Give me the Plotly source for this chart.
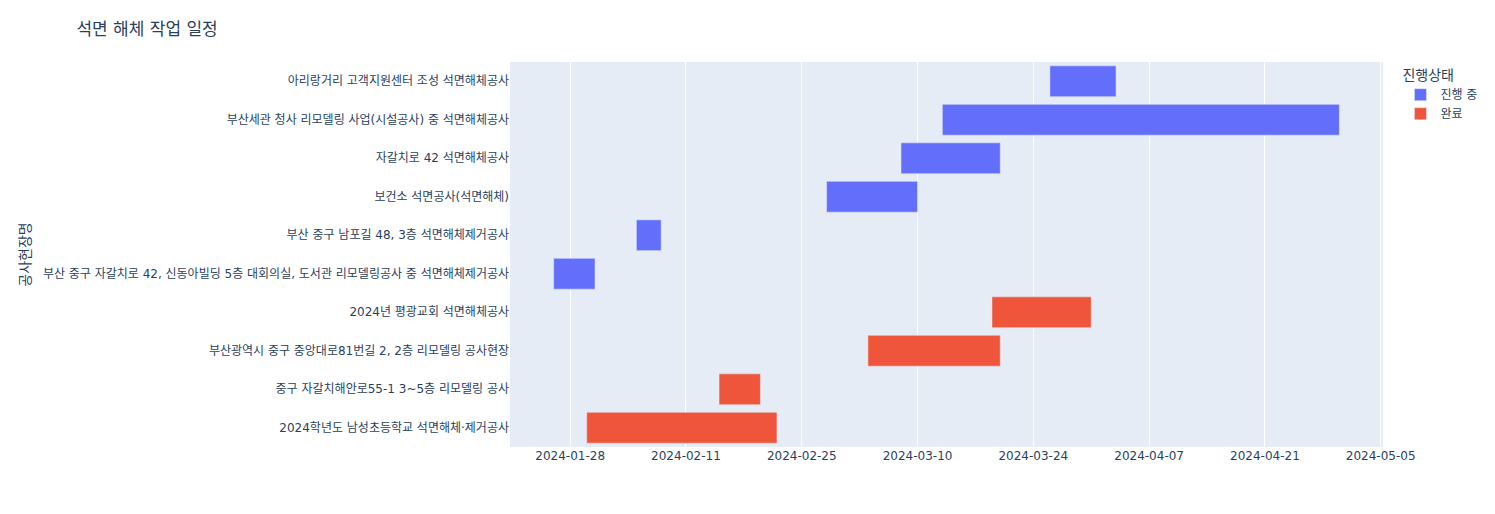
import pandas as pd
import plotly.express as px

# Data (order as drawn top to bottom, y axis reversed)
sites = [
    "아리랑거리 고객지원센터 조성 석면해체공사",
    "부산세관 청사 리모델링 사업(시설공사) 중 석면해체공사",
    "자갈치로 42 석면해체공사",
    "보건소 석면공사(석면해체)",
    "부산 중구 남포길 48, 3층 석면해체제거공사",
    "부산 중구 자갈치로 42, 신동아빌딩 5층 대회의실, 도서관 리모델링공사 중 석면해체제거공사",
    "2024년 평광교회 석면해체공사",
    "부산광역시 중구 중앙대로81번길 2, 2층 리모델링 공사현장",
    "중구 자갈치해안로55-1 3~5층 리모델링 공사",
    "2024학년도 남성초등학교 석면해체·제거공사",
]
start_dates = [
    "2024-03-26", "2024-03-13", "2024-03-08", "2024-02-28", "2024-02-05",
    "2024-01-26", "2024-03-19", "2024-03-04", "2024-02-15", "2024-01-30",
]
end_dates = [
    "2024-04-03", "2024-04-30", "2024-03-20", "2024-03-10", "2024-02-08",
    "2024-01-31", "2024-03-31", "2024-03-20", "2024-02-20", "2024-02-22",
]
status = [
    "진행 중", "진행 중", "진행 중", "진행 중", "진행 중",
    "진행 중", "완료", "완료", "완료", "완료",
]

df = pd.DataFrame({
    "공사현장명": sites,
    "시작일": pd.to_datetime(start_dates),
    "종료일": pd.to_datetime(end_dates),
    "진행상태": status,
})

fig = px.timeline(
    df,
    x_start="시작일",
    x_end="종료일",
    y="공사현장명",
    color="진행상태",
    title="석면 해체 작업 일정",
)
fig.update_yaxes(autorange="reversed", title_standoff=8)
fig.update_xaxes(tickformat="%Y-%m-%d", dtick=14 * 86400000, tick0="2024-01-28")
fig.update_layout(
    width=1487,
    height=506,
    margin=dict(t=54, b=67, l=502, r=112),
    title=dict(x=0.046),
    font=dict(family="Verdana, 'DejaVu Sans', 'Noto Sans CJK KR', sans-serif"),
)

fig.write_html("out.html")
